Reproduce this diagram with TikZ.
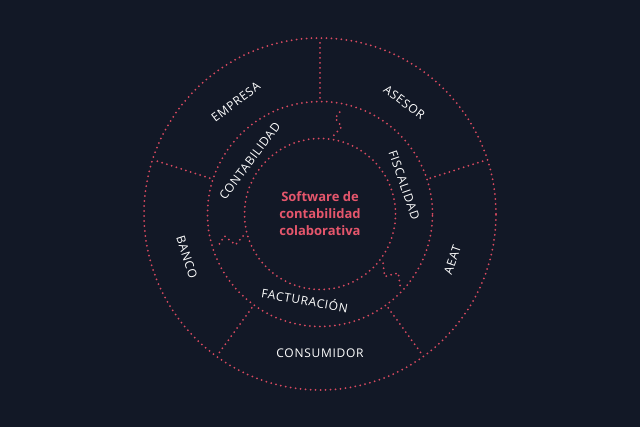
\documentclass[tikz,border=0pt]{standalone}
\usepackage{fontspec}
\setmainfont{Open Sans}
\usetikzlibrary{calc}
\definecolor{bgnavy}{HTML}{121826}
\definecolor{dotred}{HTML}{D94A61}
\definecolor{txtred}{HTML}{E5566C}
\tikzset{
  dotline/.style={dotred, line width=2pt, line cap=round, dash pattern=on 0pt off 5pt},
  ringlabel/.style={text=white, font=\fontsize{12}{14}\selectfont\addfontfeatures{LetterSpace=6}}
}
\begin{document}
\begin{tikzpicture}[x=1pt,y=1pt]
      \fill[bgnavy] (0,0) rectangle (640,427);
      \coordinate (O) at (320,213);

      % circles
      \draw[dotline] (O) circle (176);
      \draw[dotline] (O) circle (112.5);
      \draw[dotline] (O) circle (75.5);

      % outer dividers
      \foreach \a in {90,162,18,-126,-54}
        \draw[dotline] ($(O)+(\a:116)$)--($(O)+(\a:172)$);

      % inner dividers
      \draw[dotline] ($(O)+(80:80)$)--($(O)+(76:90)$)--($(O)+(81:97)$)--($(O)+(78:108)$);
      \draw[dotline] ($(O)+(196:80)$)--($(O)+(200:90)$)--($(O)+(193:98)$)--($(O)+(198:108)$);
      \draw[dotline] ($(O)+(-38:80)$)--($(O)+(-44:90)$)--($(O)+(-37:98)$)--($(O)+(-42:108)$);

      % outer labels
      \node[ringlabel, rotate=37] (empresa) at ($(O)+(127:140)$) {EMPRESA};
      \node[ringlabel, rotate=-37] (asesor) at ($(O)+(53:140)$) {ASESOR};
      \node[ringlabel, rotate=71] (aeat) at ($(O)+(-19:140)$) {AEAT};
      \node[ringlabel] (consumidor) at ($(O)+(-90:139)$) {CONSUMIDOR};
      \node[ringlabel, rotate=-72] (banco) at ($(O)+(198:140)$) {BANCO};

      % inner labels
      \node[ringlabel, rotate=53] (contab) at ($(O)+(143:88)$) {CONTABILIDAD};
      \node[ringlabel, rotate=-71] (fiscal) at ($(O)+(19:89)$) {FISCALIDAD};
      \node[ringlabel, rotate=-10] (factur) at ($(O)+(-100:87)$) {FACTURACIÓN};

      \node[text=txtred, font=\fontsize{13}{17}\selectfont\bfseries, align=center] (centre) at (O) {Software de\\contabilidad\\colaborativa};
\end{tikzpicture}
\end{document}
